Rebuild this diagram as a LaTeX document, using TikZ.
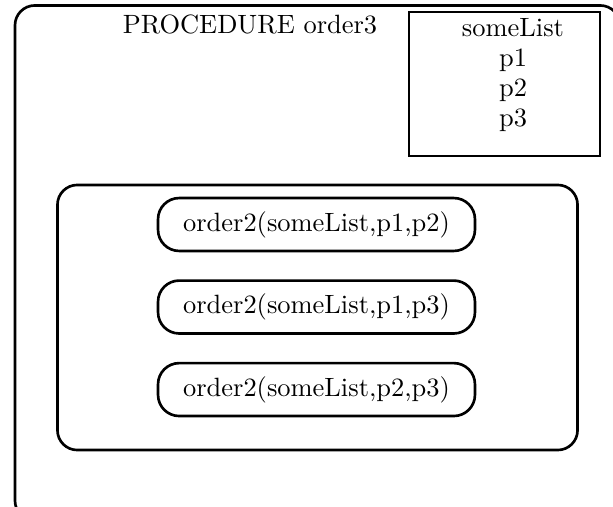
\documentclass[tikz,border=0pt]{standalone}
\usetikzlibrary{positioning}
\begin{document}
\begin{tikzpicture}[x=0.378pt, y=-0.378pt, node distance=10.2pt, frame/.style={draw, line width=1pt, rounded corners=7.5pt}, call/.style={draw, line width=1pt, rounded corners=8pt, minimum width=119.8pt, minimum height=20pt, inner sep=0pt}]
\clip (0,0) rectangle (613,507);
\node[frame, minimum width=228.7pt, minimum height=194.7pt] (proc) at (317.5,263) {};
\node (title) at (250,24) {PROCEDURE order3};
\node[draw, line width=1pt, minimum width=72.2pt, minimum height=54.4pt] (vars) at (504.5,84) {};
\node[align=center, anchor=north, font=\fontsize{10}{11.3}\selectfont] (params) at (513,9) {someList\\p1\\p2\\p3};
\node[frame, minimum width=196.6pt, minimum height=100.2pt] (body) at (317.5,317.5) {};
\node[call] (callA) at (316.5,224.5) {order2(someList,p1,p2)};
\node[call, below=of callA] (callB) {order2(someList,p1,p3)};
\node[call, below=of callB] (callC) {order2(someList,p2,p3)};
\end{tikzpicture}
\end{document}
